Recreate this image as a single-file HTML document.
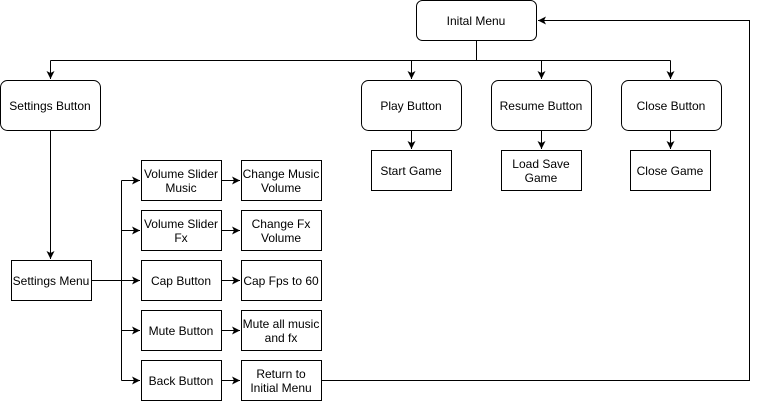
<!DOCTYPE html>
<html><head><meta charset="utf-8"><style>
html,body{margin:0;padding:0;background:#fff;width:759px;height:401px;overflow:hidden}
svg text{font-family:"Liberation Sans",sans-serif;font-size:12px;fill:#000;text-anchor:middle}
</style></head><body>
<svg width="759" height="401" viewBox="0 0 759 401" xmlns="http://www.w3.org/2000/svg">
<defs><marker id="a" markerWidth="10" markerHeight="10" refX="8" refY="5" orient="auto" markerUnits="userSpaceOnUse"><path d="M0,1 L8,5 L0,9 L2,5 Z" fill="#000"/></marker></defs>
<g fill="#fff" stroke="#000" stroke-width="1">
<rect x="416.5" y="0.5" width="120" height="40" rx="6"/>
<rect x="0.5" y="80.5" width="100" height="50" rx="7"/>
<rect x="361.5" y="80.5" width="100" height="50" rx="7"/>
<rect x="491.5" y="80.5" width="100" height="50" rx="7"/>
<rect x="621.5" y="80.5" width="100" height="50" rx="7"/>
<rect x="371.5" y="150.5" width="80" height="40"/>
<rect x="501.5" y="150.5" width="80" height="40"/>
<rect x="630.5" y="150.5" width="80" height="40"/>
<rect x="11.5" y="260.5" width="80" height="40"/>
<rect x="141.5" y="160.5" width="80" height="40"/>
<rect x="141.5" y="210.5" width="80" height="40"/>
<rect x="141.5" y="260.5" width="80" height="40"/>
<rect x="141.5" y="310.5" width="80" height="40"/>
<rect x="141.5" y="360.5" width="80" height="40"/>
<rect x="241.5" y="160.5" width="80" height="40"/>
<rect x="241.5" y="210.5" width="80" height="40"/>
<rect x="241.5" y="260.5" width="80" height="40"/>
<rect x="241.5" y="310.5" width="80" height="40"/>
<rect x="241.5" y="360.5" width="80" height="40"/>
</g>
<g fill="none" stroke="#000" stroke-width="1">
<path d="M476.5 40.5 V60.5"/>
<path d="M50.5 60.5 H670.5"/>
<path d="M50.5 60.5 V79" marker-end="url(#a)"/>
<path d="M411.5 60.5 V79" marker-end="url(#a)"/>
<path d="M541.5 60.5 V79" marker-end="url(#a)"/>
<path d="M670.5 60.5 V79" marker-end="url(#a)"/>
<path d="M411.5 130.5 V149" marker-end="url(#a)"/>
<path d="M541.5 130.5 V149" marker-end="url(#a)"/>
<path d="M670.5 130.5 V149" marker-end="url(#a)"/>
<path d="M50.5 130.5 V259" marker-end="url(#a)"/>
<path d="M91.5 280.5 H121.5"/>
<path d="M121.5 180.5 V380.5"/>
<path d="M121.5 180.5 H140" marker-end="url(#a)"/>
<path d="M121.5 230.5 H140" marker-end="url(#a)"/>
<path d="M121.5 280.5 H140" marker-end="url(#a)"/>
<path d="M121.5 330.5 H140" marker-end="url(#a)"/>
<path d="M121.5 380.5 H140" marker-end="url(#a)"/>
<path d="M221.5 180.5 H240" marker-end="url(#a)"/>
<path d="M221.5 230.5 H240" marker-end="url(#a)"/>
<path d="M221.5 280.5 H240" marker-end="url(#a)"/>
<path d="M221.5 330.5 H240" marker-end="url(#a)"/>
<path d="M221.5 380.5 H240" marker-end="url(#a)"/>
<path d="M321.5 380.5 H749.5 V20.5 H538" marker-end="url(#a)"/>
</g>
<text x="476" y="25">Inital Menu</text>
<text x="50" y="110">Settings Button</text>
<text x="411" y="110">Play Button</text>
<text x="541" y="110">Resume Button</text>
<text x="671" y="110">Close Button</text>
<text x="411" y="175">Start Game</text>
<text x="541" y="168">Load Save</text><text x="541" y="182">Game</text>
<text x="670" y="175">Close Game</text>
<text x="51" y="285">Settings Menu</text>
<text x="181" y="178">Volume Slider</text><text x="181" y="192">Music</text>
<text x="181" y="228">Volume Slider</text><text x="181" y="242">Fx</text>
<text x="181" y="285">Cap Button</text>
<text x="181" y="335">Mute Button</text>
<text x="181" y="385">Back Button</text>
<text x="281" y="178">Change Music</text><text x="281" y="192">Volume</text>
<text x="281" y="228">Change Fx</text><text x="281" y="242">Volume</text>
<text x="281" y="285">Cap Fps to 60</text>
<text x="281" y="328">Mute all music</text><text x="281" y="342">and fx</text>
<text x="281" y="378">Return to</text><text x="281" y="392">Initial Menu</text>
</svg>
</body></html>
